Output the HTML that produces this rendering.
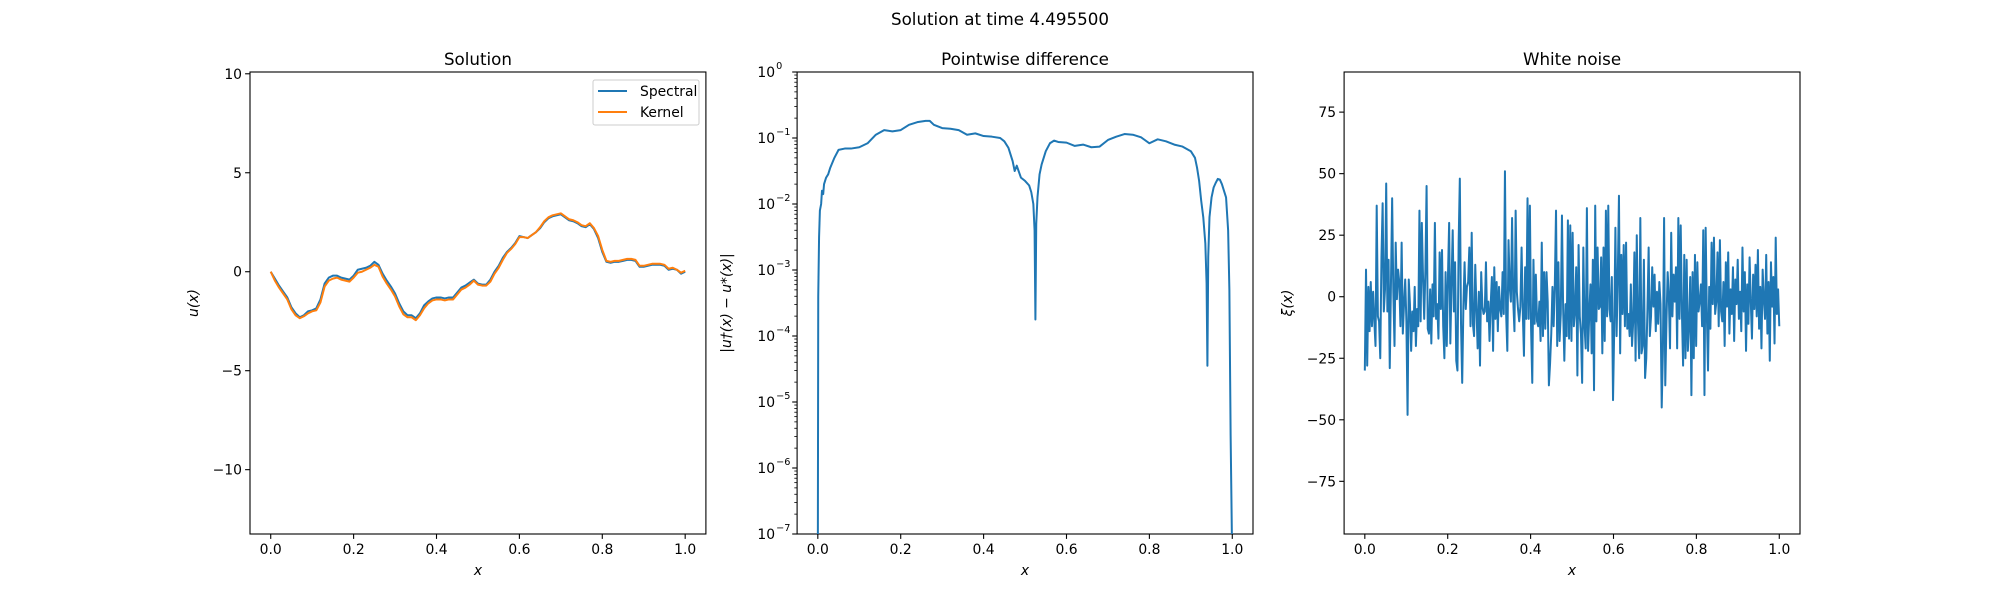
<!DOCTYPE html>
<html><head><meta charset="utf-8">
<style>
html,body{margin:0;padding:0;background:#fff;}
svg{display:block;font-family:"DejaVu Sans","Liberation Sans",sans-serif;}
</style></head>
<body>
<svg id="fig" width="2000" height="600" viewBox="0 0 2000 600" xmlns="http://www.w3.org/2000/svg">
<rect width="2000" height="600" fill="#fff"/>
<text x="1000" y="25" font-size="16.7" text-anchor="middle">Solution at time 4.495500</text>
</svg>
<script>
// ---- Solution panel data ----
const solX = [0,0.01,0.02,0.03,0.04,0.05,0.06,0.07,0.08,0.09,0.1,0.11,0.12,0.13,0.14,0.15,0.16,0.17,0.18,0.19,0.2,0.21,0.22,0.23,0.24,0.25,0.26,0.27,0.28,0.29,0.3,0.31,0.32,0.33,0.34,0.35,0.36,0.37,0.38,0.39,0.4,0.41,0.42,0.43,0.44,0.45,0.46,0.47,0.48,0.49,0.5,0.51,0.52,0.53,0.54,0.55,0.56,0.57,0.58,0.59,0.6,0.61,0.62,0.63,0.64,0.65,0.66,0.67,0.68,0.69,0.7,0.71,0.72,0.73,0.74,0.75,0.76,0.77,0.78,0.79,0.8,0.81,0.82,0.83,0.84,0.85,0.86,0.87,0.88,0.89,0.9,0.91,0.92,0.93,0.94,0.95,0.96,0.97,0.98,0.99,1.0];
const spectral = [0,-0.35,-0.7,-1.0,-1.3,-1.8,-2.1,-2.3,-2.2,-2.0,-1.95,-1.85,-1.4,-0.6,-0.3,-0.2,-0.2,-0.3,-0.35,-0.4,-0.2,0.1,0.15,0.2,0.3,0.5,0.35,-0.1,-0.45,-0.75,-1.1,-1.6,-2.0,-2.2,-2.2,-2.35,-2.1,-1.7,-1.5,-1.35,-1.3,-1.3,-1.35,-1.3,-1.3,-1.05,-0.8,-0.7,-0.55,-0.4,-0.6,-0.65,-0.65,-0.4,0.0,0.3,0.7,1.0,1.2,1.45,1.8,1.75,1.7,1.85,2.0,2.2,2.5,2.7,2.8,2.85,2.9,2.75,2.6,2.55,2.45,2.3,2.25,2.4,2.15,1.7,1.0,0.5,0.45,0.5,0.5,0.55,0.6,0.6,0.55,0.25,0.25,0.3,0.35,0.35,0.35,0.3,0.1,0.15,0.1,-0.1,0.0];
const kernel = [0,-0.45,-0.8,-1.1,-1.4,-1.9,-2.2,-2.35,-2.25,-2.1,-2.0,-1.95,-1.55,-0.75,-0.45,-0.35,-0.3,-0.4,-0.45,-0.5,-0.3,-0.05,0.0,0.1,0.2,0.35,0.25,-0.25,-0.6,-0.9,-1.25,-1.75,-2.15,-2.3,-2.3,-2.45,-2.2,-1.85,-1.6,-1.45,-1.4,-1.4,-1.45,-1.4,-1.4,-1.15,-0.9,-0.8,-0.65,-0.45,-0.65,-0.7,-0.7,-0.5,-0.1,0.2,0.6,0.95,1.15,1.4,1.75,1.75,1.7,1.85,2.0,2.25,2.55,2.75,2.85,2.9,2.95,2.8,2.65,2.6,2.5,2.35,2.3,2.45,2.2,1.8,1.1,0.55,0.5,0.55,0.55,0.6,0.65,0.65,0.6,0.3,0.3,0.35,0.4,0.4,0.4,0.35,0.15,0.2,0.1,-0.05,0.05];
// ---- Pointwise difference data (log10 values) ----
const diffX = [0,0.001,0.003,0.005,0.008,0.01,0.013,0.015,0.02,0.025,0.03,0.04,0.05,0.065,0.08,0.1,0.12,0.14,0.16,0.18,0.2,0.22,0.24,0.26,0.27,0.28,0.3,0.32,0.34,0.36,0.38,0.4,0.42,0.44,0.45,0.46,0.47,0.475,0.48,0.49,0.5,0.51,0.515,0.52,0.523,0.525,0.527,0.53,0.535,0.54,0.55,0.56,0.57,0.58,0.6,0.62,0.64,0.66,0.68,0.7,0.72,0.74,0.76,0.78,0.8,0.82,0.84,0.86,0.88,0.9,0.91,0.915,0.92,0.925,0.93,0.935,0.938,0.94,0.942,0.945,0.95,0.955,0.96,0.965,0.97,0.975,0.98,0.985,0.99,0.993,0.996,0.998,1.0];
const diffLog = [-7.5,-3.4,-2.5,-2.1,-2.0,-1.8,-1.85,-1.7,-1.6,-1.55,-1.45,-1.3,-1.18,-1.16,-1.16,-1.14,-1.08,-0.95,-0.88,-0.9,-0.88,-0.8,-0.76,-0.74,-0.74,-0.8,-0.85,-0.86,-0.88,-0.95,-0.93,-0.97,-0.98,-1.0,-1.05,-1.15,-1.35,-1.5,-1.42,-1.6,-1.65,-1.72,-1.82,-2.0,-2.4,-3.75,-2.3,-1.9,-1.55,-1.4,-1.2,-1.08,-1.04,-1.06,-1.07,-1.12,-1.1,-1.14,-1.13,-1.03,-0.98,-0.94,-0.95,-0.99,-1.08,-1.02,-1.05,-1.1,-1.13,-1.2,-1.3,-1.45,-1.65,-1.95,-2.2,-2.6,-3.2,-4.45,-2.8,-2.2,-1.9,-1.75,-1.68,-1.62,-1.63,-1.7,-1.8,-1.9,-2.4,-3.3,-5.5,-6.5,-7.5];
// ---- White noise data ----
const noise = [
-30,11,-28,4,-14,6,-12,2,-10,-20,
37,-8,-10,-25,16,38,-6,3,46,-6,
15,-29,5,40,2,-20,22,-1,11,6,
-12,22,-15,-3,7,-10,-48,7,-3,-22,
-6,-14,4,-20,-5,-12,35,-10,30,8,
-9,11,45,-13,-15,3,-19,5,-8,30,
-9,-3,-17,18,-5,19,-12,-25,10,-20,
8,30,-19,5,27,-6,14,-26,-30,22,
48,-11,-35,-4,14,-5,4,6,20,-12,
26,-11,-16,13,-5,-21,2,-28,10,-4,
-7,-6,14,-10,-2,-18,-3,8,-22,12,
-9,6,-14,4,-5,-8,10,-7,51,-7,
-22,23,4,-2,32,-2,-14,35,2,-5,
-10,-4,20,-6,-24,12,-9,40,-9,37,
-13,-35,15,-11,9,-10,-12,-2,-18,22,
-16,10,-13,10,-2,-36,-27,-15,4,-12,
5,35,-20,14,-18,-7,33,-5,-26,-3,
-16,31,-17,29,-18,26,-12,-6,12,-32,
21,-8,-15,-35,20,-12,-21,36,-22,-7,
5,-23,15,-38,37,-10,20,-5,-4,16,
-23,20,-18,35,-8,37,-5,-10,8,-42,
-13,28,-16,8,41,-23,17,-7,21,-12,
22,-13,-7,-16,5,-20,-10,18,-26,25,
-10,-25,32,-23,-20,15,-33,-25,-5,20,
-16,-8,12,-4,9,-14,2,-11,6,-3,
-45,-22,32,-36,-10,10,0,-21,26,-8,
9,-2,12,-21,32,-9,29,-6,-28,17,
-25,15,-22,-12,8,-40,10,-25,17,-20,
14,-6,-2,5,-12,27,-40,28,-7,-30,
4,-13,22,-3,24,-7,-2,18,-12,23,
-6,-10,6,-20,14,-4,18,-15,3,-7,
12,-18,7,-3,15,-9,2,-14,20,-6,
10,-22,5,-11,16,-2,-17,9,-5,13,
-8,19,-13,4,-21,11,-1,-9,17,-15,
6,-26,14,-4,8,-19,24,-7,3,-12
];

const NS='http://www.w3.org/2000/svg';
const fig=document.getElementById('fig');
function el(tag,attrs,parent){const e=document.createElementNS(NS,tag);for(const k in attrs)e.setAttribute(k,attrs[k]);(parent||fig).appendChild(e);return e;}
const T=72,B=534;
const axes=[{l:250,r:705.9},{l:797.1,r:1253},{l:1344.1,r:1800}];
function xs(ax,v){return ax.l+(v+0.05)/1.1*(ax.r-ax.l);}
function linY(lo,hi){return v=>B-(v-lo)/(hi-lo)*(B-T);}
function frame(ax,name){
  const g=el('g',{});
  
  
  el('rect',{x:ax.l,y:T,width:ax.r-ax.l,height:B-T,fill:'none',stroke:'#000','stroke-width':1.1},g);
  const xt=[0,0.2,0.4,0.6,0.8,1.0];
  xt.forEach(v=>{const x=xs(ax,v);el('line',{x1:x,y1:B,x2:x,y2:B+4.9,stroke:'#000','stroke-width':1.1},g);
    const t=el('text',{x:x,y:B+20,'font-size':13.9,'text-anchor':'middle'},g);t.textContent=v.toFixed(1);
    });
  const xl=el('text',{x:(ax.l+ax.r)/2,y:B+41,'font-size':13.9,'text-anchor':'middle','font-style':'italic'},g);xl.textContent='x';
  
  return g;
}
function title(ax,txt,name){const t=el('text',{x:(ax.l+ax.r)/2,y:T-7,'font-size':16.7,'text-anchor':'middle'});t.textContent=txt;
  }
function ytick(ax,y,label,g){el('line',{x1:ax.l,y1:y,x2:ax.l-4.9,y2:y,stroke:'#000','stroke-width':1.1},g);
  if(label!==null){const t=el('text',{x:ax.l-8,y:y+5,'font-size':13.9,'text-anchor':'end'},g);t.textContent=label;
  }}
function yTitle(ax,off,txt,name){const t=el('text',{x:0,y:0,'font-size':13.9,'text-anchor':'middle','font-style':'italic',transform:`translate(${ax.l-off},${(T+B)/2}) rotate(-90)`});t.textContent=txt;
  }
function poly(pts,color,w,name,clip){const p=el('polyline',{points:pts.map(p=>p[0].toFixed(2)+','+p[1].toFixed(2)).join(' '),fill:'none',stroke:color,'stroke-width':w,'stroke-linejoin':'round','clip-path':clip||''});
  return p;}
const defs=el('defs',{});
axes.forEach((ax,i)=>{const c=el('clipPath',{id:'c'+i},defs);el('rect',{x:ax.l,y:T,width:ax.r-ax.l,height:B-T},c);});

// Panel 1
{const ax=axes[0];const y=linY(-13.25,10.09);
 title(ax,'Solution','solution-title');
 const g=frame(ax,'solution');
 [-10,-5,0,5,10].forEach(v=>ytick(ax,y(v),v<0?'\u2212'+(-v):String(v),g));
 yTitle(ax,52,'u(x)','solution-y-axis-title');
 poly(solX.map((x,i)=>[xs(ax,x),y(spectral[i])]),'#1f77b4',2,'spectral-line','url(#c0)');
 poly(solX.map((x,i)=>[xs(ax,x),y(kernel[i])]),'#ff7f0e',2,'kernel-line','url(#c0)');
 const lg=el('g',{});
 el('rect',{x:593,y:80,width:106,height:45,rx:2,fill:'#fff',stroke:'#ccc','stroke-width':1},lg);
 el('line',{x1:598,y1:91,x2:627,y2:91,stroke:'#1f77b4','stroke-width':2},lg);
 el('line',{x1:598,y1:112,x2:627,y2:112,stroke:'#ff7f0e','stroke-width':2},lg);
 const a=el('text',{x:640,y:96,'font-size':13.9},lg);a.textContent='Spectral';
 const b=el('text',{x:640,y:117,'font-size':13.9},lg);b.textContent='Kernel';
}
// Panel 2
{const ax=axes[1];const y=linY(-7,0);
 title(ax,'Pointwise difference','difference-title');
 const g=frame(ax,'difference');
 for(let e=-7;e<=0;e++){
   const yy=y(e);ytick(ax,yy,null,g);
   const t=el('text',{x:ax.l-22,y:yy+5,'font-size':13.9,'text-anchor':'end'},g);t.textContent='10';
   
   const s=el('text',{x:ax.l-21,y:yy-3,'font-size':9.7,'text-anchor':'start'},g);s.textContent=e===0?'0':'\u2212'+(-e);
   
   if(e<0){for(let m=2;m<=9;m++){const my=y(e+Math.log10(m));el('line',{x1:ax.l,y1:my,x2:ax.l-2.8,y2:my,stroke:'#000','stroke-width':0.8},g);}}
 }
 yTitle(ax,66,'|u\u2020(x) \u2212 u*(x)|','difference-y-axis-title');
 poly(diffX.map((x,i)=>[xs(ax,x),y(diffLog[i])]),'#1f77b4',2,'difference-line','url(#c1)');
}
// Panel 3
{const ax=axes[2];const y=linY(-96.4,91.3);
 title(ax,'White noise','noise-title');
 const g=frame(ax,'noise');
 [-75,-50,-25,0,25,50,75].forEach(v=>ytick(ax,y(v),v<0?'\u2212'+(-v):String(v),g));
 yTitle(ax,52,'\u03BE(x)','noise-y-axis-title');
 const n=noise.length;
 poly(noise.map((v,i)=>[xs(ax,i/(n-1)),y(v)]),'#1f77b4',2,'noise-line','url(#c2)');
}
</script>
</body></html>
